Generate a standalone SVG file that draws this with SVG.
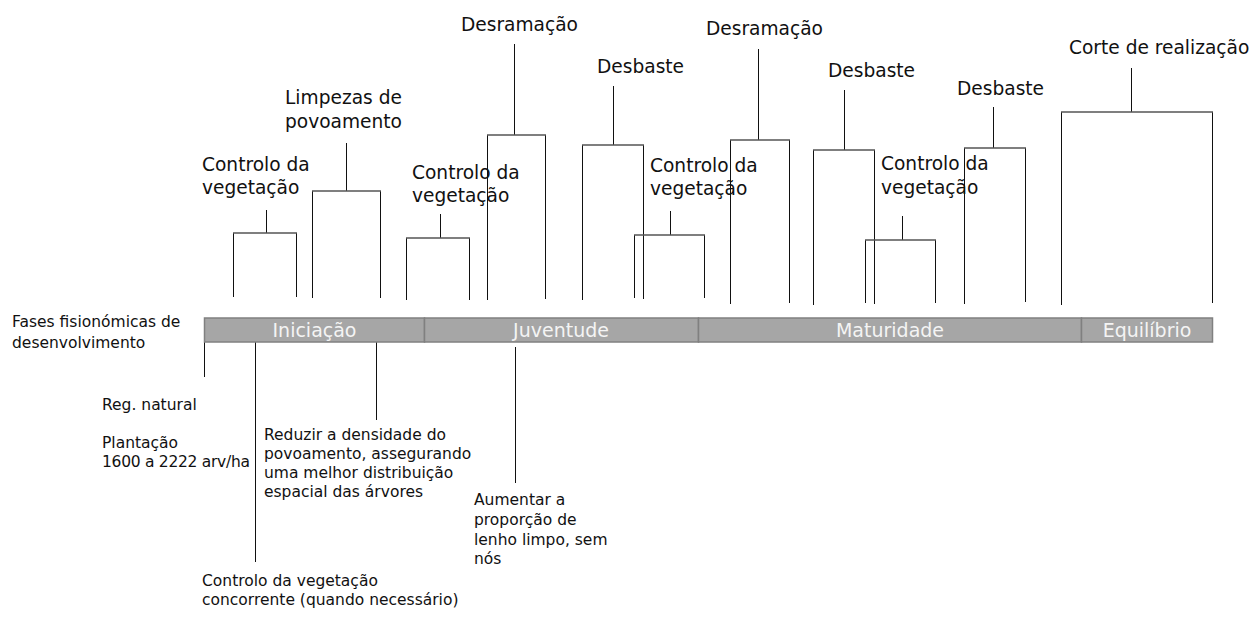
<svg xmlns="http://www.w3.org/2000/svg" width="1253" height="617" viewBox="0 0 1253 617">
<style>
.t{font-family:"DejaVu Sans","Liberation Sans",sans-serif;font-size:18.6px;fill:#111}
.s{font-family:"DejaVu Sans","Liberation Sans",sans-serif;font-size:15.5px;fill:#111}
.b{font-family:"DejaVu Sans","Liberation Sans",sans-serif;font-size:19px;fill:#f4f4f4;text-anchor:middle}
.seg{fill:#a6a6a6;stroke:#808080;stroke-width:1.5}
.v{stroke:#111;stroke-width:1;fill:none}
.h{stroke:#555;stroke-width:1.3;fill:none}
</style>
<rect width="1253" height="617" fill="#fff"/>
<g id="connectors">
<path class="v" d="M266.5 210V233 M233.5 297V233 M296.5 297V233"/>
<path class="h" d="M233 233H297"/>
<path class="v" d="M346.5 143V191 M312.5 298V191 M380.5 298V191"/>
<path class="h" d="M312 191H381"/>
<path class="v" d="M440.5 214V238 M406.5 300V238 M469.5 300V238"/>
<path class="h" d="M406 238H470"/>
<path class="v" d="M514.5 44V135 M487.5 300V135 M545.5 299V135"/>
<path class="h" d="M487 135H546"/>
<path class="v" d="M613.5 86V145 M582.5 300V145 M643.5 299V145"/>
<path class="h" d="M582 145H644"/>
<path class="v" d="M670.5 211V235 M634.5 298V235 M704.5 298V235"/>
<path class="h" d="M634 235H705"/>
<path class="v" d="M758.5 49V140 M730.5 304V140 M789.5 303V140"/>
<path class="h" d="M730 140H790"/>
<path class="v" d="M844.5 90V150 M813.5 305V150 M874.5 304V150"/>
<path class="h" d="M813 150H875"/>
<path class="v" d="M902.5 216V240 M865.5 303V240 M935.5 303V240"/>
<path class="h" d="M865 240H936"/>
<path class="v" d="M993.5 107V148 M964.5 304V148 M1025.5 302V148"/>
<path class="h" d="M964 148H1026"/>
<path class="v" d="M1131.5 68V112 M1061.5 305V112 M1212.5 303V112"/>
<path class="h" d="M1061 112H1213"/>
<path class="v" d="M204.5 342V377 M255.5 342V562 M376.5 342V420 M515.5 347V483"/>
</g>
<g id="bar">
<rect class="seg" x="204.5" y="318" width="220" height="24"/>
<rect class="seg" x="424.5" y="318" width="274" height="24"/>
<rect class="seg" x="698.5" y="318" width="383" height="24"/>
<rect class="seg" x="1081.5" y="318" width="131" height="24"/>
<text class="b" x="314.5" y="337">Iniciação</text>
<text class="b" x="561" y="337">Juventude</text>
<text class="b" x="890" y="337">Maturidade</text>
<text class="b" x="1147" y="337">Equilíbrio</text>
</g>
<g id="n-controlo1"><text class="t" x="202" y="171">Controlo da</text><text class="t" x="202" y="194">vegetação</text></g>
<g id="n-limpezas"><text class="t" x="285" y="104">Limpezas de</text><text class="t" x="285" y="128">povoamento</text></g>
<g id="n-controlo2"><text class="t" x="412" y="179">Controlo da</text><text class="t" x="412" y="202">vegetação</text></g>
<g id="n-desramacao1"><text class="t" x="461" y="31">Desramação</text></g>
<g id="n-desbaste1"><text class="t" x="597" y="73">Desbaste</text></g>
<g id="n-controlo3"><text class="t" x="650" y="172">Controlo da</text><text class="t" x="650" y="195">vegetação</text></g>
<g id="n-desramacao2"><text class="t" x="706" y="35">Desramação</text></g>
<g id="n-desbaste2"><text class="t" x="828" y="77">Desbaste</text></g>
<g id="n-controlo4"><text class="t" x="881" y="170">Controlo da</text><text class="t" x="881" y="194">vegetação</text></g>
<g id="n-desbaste3"><text class="t" x="957" y="95">Desbaste</text></g>
<g id="n-corte"><text class="t" x="1069" y="54">Corte de realização</text></g>
<g id="n-fases"><text class="s" x="12" y="327">Fases fisionómicas de</text><text class="s" x="12" y="348">desenvolvimento</text></g>
<g id="n-reg"><text class="s" x="102" y="410">Reg. natural</text></g>
<g id="n-plantacao"><text class="s" x="102" y="448">Plantação</text><text class="s" x="102" y="467" textLength="148" lengthAdjust="spacing">1600 a 2222 arv/ha</text></g>
<g id="n-reduzir"><text class="s" x="264" y="440">Reduzir a densidade do</text><text class="s" x="264" y="459">povoamento, assegurando</text><text class="s" x="264" y="478">uma melhor distribuição</text><text class="s" x="264" y="497">espacial das árvores</text></g>
<g id="n-aumentar"><text class="s" x="474" y="505">Aumentar a</text><text class="s" x="474" y="525">proporção de</text><text class="s" x="474" y="545">lenho limpo, sem</text><text class="s" x="474" y="564">nós</text></g>
<g id="n-controlo5"><text class="s" x="202" y="586">Controlo da vegetação</text><text class="s" x="202" y="605">concorrente (quando necessário)</text></g>
</svg>
